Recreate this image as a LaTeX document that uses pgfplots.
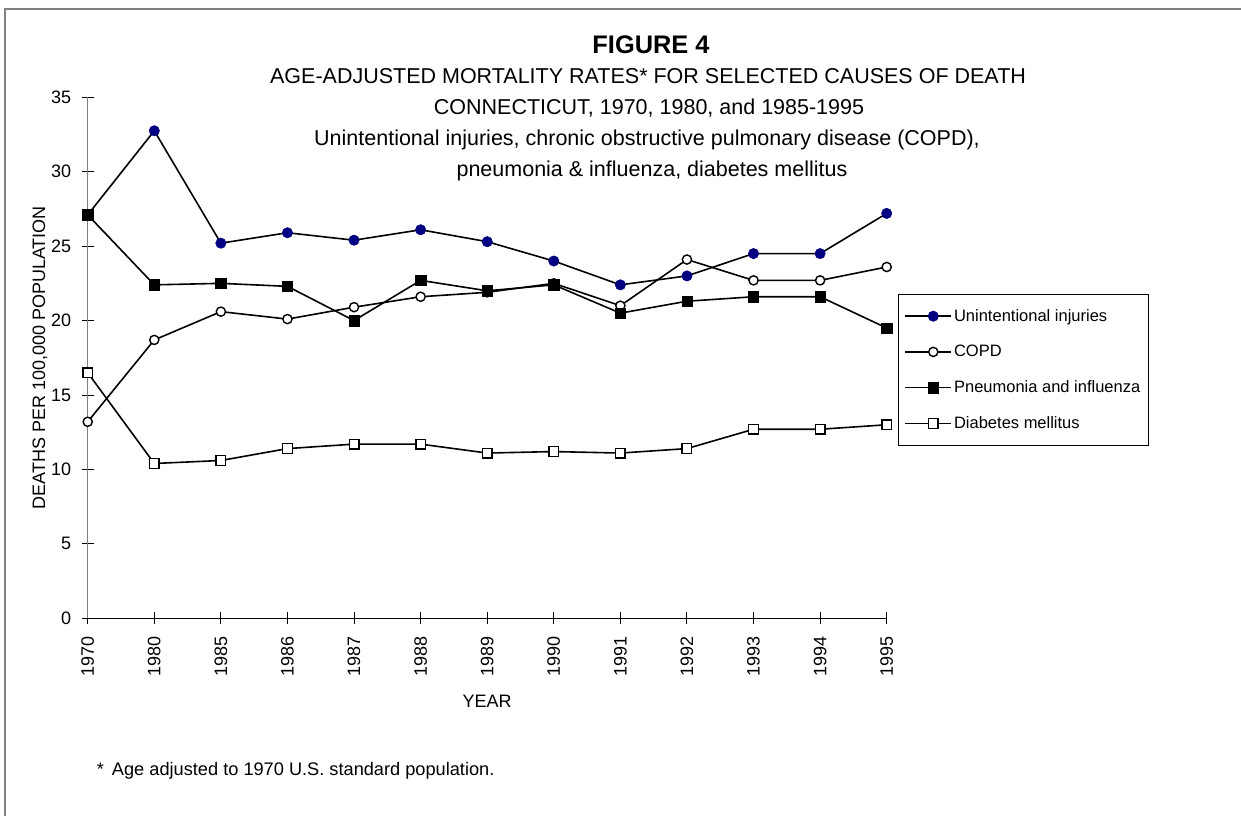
\documentclass[border=0pt]{standalone}
\usepackage{pgfplots}
\pgfplotsset{compat=1.18}
\usepackage{fontspec}
\setmainfont{Liberation Sans}
\definecolor{navy}{RGB}{0,0,128}
\definecolor{framegray}{RGB}{128,128,128}
\newcommand{\fs}[1]{\fontsize{#1bp}{#1bp}\selectfont}
\begin{document}
\begin{tikzpicture}[x=1bp,y=1bp]
\begin{axis}[
  at={(87.7bp,197.7bp)}, anchor=south west,
  scale only axis, width=799bp, height=521bp,
  xmin=0, xmax=12, ymin=0, ymax=35,
  axis x line*=bottom, axis y line*=left,
  x axis line style={black, line width=1.2bp},
  y axis line style={framegray, line width=1.4bp},
  xtick={0,1,...,12},
  xticklabels={1970,1980,1985,1986,1987,1988,1989,1990,1991,1992,1993,1994,1995},
  ytick={0,5,...,35},
  tick align=center, major tick length=12bp,
  tick style={black, line width=1bp},
  /pgf/number format/assume math mode=true,
  xticklabel style={yshift=-9bp, rotate=90, anchor=east, font=\fs{18}},
  yticklabel style={xshift=-7bp, font=\fs{18}},
  xlabel={YEAR}, ylabel={DEATHS PER 100,000 POPULATION},
  xlabel style={at={(axis description cs:0.5,-0.1587)}, anchor=center, font=\fs{18}},
  ylabel style={at={(axis description cs:-0.0597,0.5)}, anchor=center, font=\fs{18}},
  every axis plot/.append style={line width=1.6bp, black},
  legend image code/.code={\path (0bp,0bp) -- (10bp,0bp); \draw[line width=1.6bp, mark repeat=2,mark phase=2] plot coordinates {(10bp,0bp)(28bp,0bp)(46bp,0bp)};},
  legend cell align=left,
  legend style={at={(rel axis cs:1.0141,0.6225)}, anchor=north west,
    font=\fs{16.5}, draw=black, line width=1bp, inner xsep=6bp, inner ysep=13bp,
    row sep=18.5bp},
]
\addplot[mark=*, mark size=5.2bp, mark options={fill=navy, draw=navy, line width=0.5bp}]
  coordinates {(0,27.1)(1,32.75)(2,25.2)(3,25.9)(4,25.4)(5,26.1)(6,25.3)(7,24.0)(8,22.4)(9,23.0)(10,24.5)(11,24.5)(12,27.2)};
\addlegendentry{Unintentional injuries}
\addplot[mark=*, mark size=4.6bp, mark options={fill=white, draw=black, line width=1.4bp}]
  coordinates {(0,13.2)(1,18.7)(2,20.6)(3,20.1)(4,20.9)(5,21.6)(6,21.9)(7,22.5)(8,21.0)(9,24.1)(10,22.7)(11,22.7)(12,23.6)};
\addlegendentry{COPD}
\addplot[mark=square*, mark size=5.2bp, mark options={fill=black, draw=black, line width=0.5bp}]
  coordinates {(0,27.1)(1,22.4)(2,22.5)(3,22.3)(4,20.0)(5,22.7)(6,22.0)(7,22.4)(8,20.5)(9,21.3)(10,21.6)(11,21.6)(12,19.5)};
\addlegendentry{Pneumonia and influenza}
\addplot[mark=square*, mark size=4.8bp, mark options={fill=white, draw=black, line width=1.4bp}]
  coordinates {(0,16.5)(1,10.4)(2,10.6)(3,11.4)(4,11.7)(5,11.7)(6,11.1)(7,11.2)(8,11.1)(9,11.4)(10,12.7)(11,12.7)(12,13.0)};
\addlegendentry{Diabetes mellitus}
\end{axis}
\draw[framegray, line width=1.5bp] (5,0) -- (5,807) -- (1241,807);
\node[anchor=base, font=\fs{25.4}\bfseries, inner sep=0] at (651,762) {FIGURE 4};
\node[anchor=base, font=\fs{21.5}, inner sep=0] at (648,732.7) {AGE-ADJUSTED MORTALITY RATES* FOR SELECTED CAUSES OF DEATH};
\node[anchor=base, font=\fs{21.5}, inner sep=0] at (649,701.5) {CONNECTICUT, 1970, 1980, and 1985-1995};
\node[anchor=base, font=\fs{21.5}, inner sep=0] at (647,670.5) {Unintentional injuries, chronic obstructive pulmonary disease (COPD),};
\node[anchor=base, font=\fs{21.5}, inner sep=0] at (652,639.5) {pneumonia \& influenza, diabetes mellitus};
\node[anchor=base west, font=\fs{18.2}, inner sep=0] at (96.7,40) {*\hspace{8bp}Age adjusted to 1970 U.S. standard population.};
\pgfresetboundingbox
\path[use as bounding box] (0,0) rectangle (1241,816);
\end{tikzpicture}
\end{document}
